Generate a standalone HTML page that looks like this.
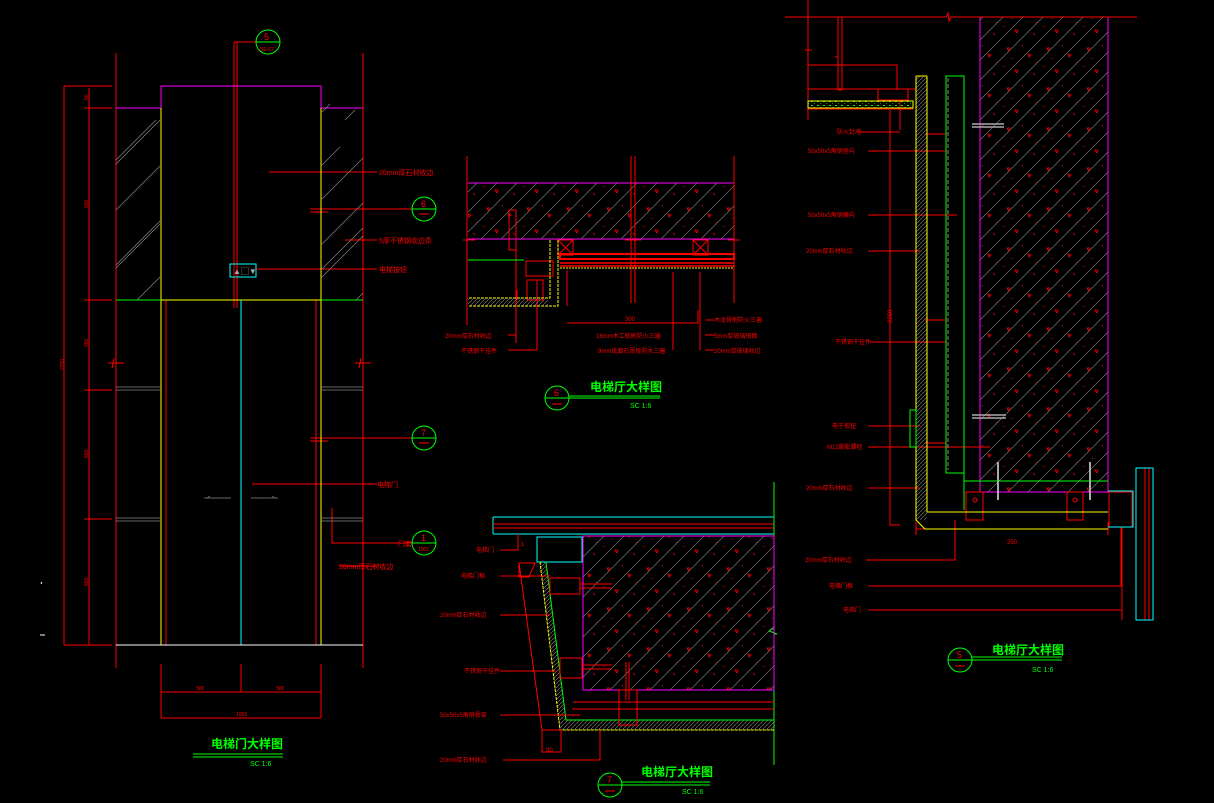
<!DOCTYPE html>
<html><head><meta charset="utf-8"><style>
html,body{margin:0;padding:0;background:#000;}
svg{display:block}
text{font-family:"Liberation Sans","Noto Sans CJK SC",sans-serif;}
.l{fill:#f00;font-size:7px}
.t{fill:#0f0;font-size:12px;font-weight:bold}
.s{fill:#0f0;font-size:7px}
</style></head><body>
<svg width="1214" height="803" viewBox="0 0 1214 803" xmlns="http://www.w3.org/2000/svg" fill="none" stroke-width="1">
<defs>
<pattern id="conc" width="40" height="40" patternUnits="userSpaceOnUse">
<path d="M0 40L40 0M-10 10L10 -10M30 50L50 30M0 20L20 0M20 40L40 20" stroke="#888" stroke-width="0.6"/>
<path d="M7 8l3 0-1.5 3z M28 14l3 1-2 2z M15 30l3 0-1 3z M33 33l2 2" stroke="#f00" stroke-width="0.8"/>
<rect x="22" y="5" width="1" height="1" fill="#f00"/><rect x="4" y="26" width="1" height="1" fill="#f00"/><rect x="36" y="22" width="1" height="1" fill="#f00"/><rect x="12" y="18" width="1" height="1" fill="#f00"/>
</pattern>
<pattern id="hat" width="4" height="4" patternUnits="userSpaceOnUse"><path d="M0 4L4 0" stroke="#888" stroke-width="0.6"/></pattern>
<pattern id="grn" width="6" height="4" patternUnits="userSpaceOnUse"><rect x="1" y="1" width="2" height="1" fill="#0f0"/><rect x="4" y="3" width="1" height="1" fill="#0a0"/></pattern>
</defs>

<!-- ============ LEFT ELEVATION ============ -->
<g stroke="#f00">
<path d="M64 86V645M64 86H112M89 88V645M84 108H112M84 300H112M84 390H112M84 519H112M64 645H112"/>
<path d="M116 53V668M363 53V668"/>
<path d="M108 363H124M114 358l-2 10M355 363H371M361 358l-2 10"/>
<path d="M234 42V308M237 42V308M234 42H258"/>
<path d="M166 300V645M316 300V645"/>
<path d="M269 172H377M310 209H412M310 212H328M345 240H377M257 269H377M310 438H412M310 441H328M252 484H377M332 508V543H412M339 566H377"/>
<path d="M161 664V718M241 664V692M321 664V718M161 692H321M161 718H321"/>
</g>
<path d="M161 108V86H321V108M116 108H161M321 108H363" stroke="#f0f"/>
<path d="M161 108V645M321 108V645M161 300H321" stroke="#ff0"/>
<path d="M116 300H161M321 300H363" stroke="#0f0"/>
<path d="M241 300V645" stroke="#0ff"/>
<path d="M116 645H363" stroke="#fff"/>
<g stroke="#888" stroke-width="0.7">
<path d="M116 160L156 120M116 164L160 120M116 210L161 165M116 265L161 220M116 268L161 223M137 300L161 276M321 113L330 104M321 166L340 147M321 200L363 158M345 120L355 110M321 245L363 203M321 270L363 228M321 278L363 236M356 300L363 293"/>
<path d="M116 387H161M116 390H161M321 387H363M321 390H363M116 518H161M116 521H161M321 518H363M321 521H363"/>
<path d="M204 498H231M251 498H278M207 498l3-2M275 498l-3-2"/>
</g>
<rect x="230" y="264" width="26" height="13" stroke="#0ff"/>
<text x="233" y="274" style="fill:#aaa;font-size:8px">▲▢▼</text>
<g stroke="#0f0"><circle cx="268" cy="42" r="12"/><path d="M256 42H280"/><circle cx="424" cy="209" r="12"/><path d="M412 209H436"/><circle cx="424" cy="438" r="12"/><path d="M412 438H436"/><circle cx="424" cy="543" r="12"/><path d="M412 543H436"/></g>
<text x="264" y="40" style="fill:#f00;font-size:9px">5</text><text x="260" y="51" style="fill:#f00;font-size:5px">SE-07</text>
<text x="421" y="207" style="fill:#f00;font-size:9px">6</text><path d="M419 214H429" stroke="#f00"/>
<text x="421" y="436" style="fill:#f00;font-size:9px">7</text><path d="M419 443H429" stroke="#f00"/>
<text x="421" y="541" style="fill:#f00;font-size:9px">1</text><text x="418" y="551" style="fill:#f00;font-size:5px">1001</text>
<text class="l" x="379" y="175">20mm厚石材收边</text>
<text class="l" x="379" y="243">5厚不锈钢收边条</text>
<text class="l" x="379" y="272">电梯按钮</text>
<text class="l" x="377" y="487">电梯门</text>
<text class="l" x="398" y="546">门套</text>
<text class="l" x="339" y="569">20mm厚石材收边</text>
<g class="l" style="font-size:5px">
<text x="84" y="100" transform="rotate(-90 86 98)">50</text><text x="84" y="208" transform="rotate(-90 86 206)">900</text><text x="84" y="347" transform="rotate(-90 86 345)">350</text><text x="84" y="458" transform="rotate(-90 86 456)">650</text><text x="84" y="586" transform="rotate(-90 86 584)">650</text><text x="60" y="370" transform="rotate(-90 62 368)">2250</text>
<text x="196" y="690">500</text><text x="276" y="690">500</text><text x="236" y="716">1000</text>
</g>
<text class="t" x="211" y="748">电梯门大样图</text>
<path d="M193 754H283M193 757H283" stroke="#0f0"/>
<text class="s" x="250" y="766">SC 1:6</text>
<path d="M41 584l1-2M40 635H45" stroke="#fff"/>

<!-- ============ MIDDLE TOP (6) ============ -->
<rect x="468" y="183" width="266" height="56" fill="url(#conc)"/>
<path d="M468 183H734M468 239H734" stroke="#f0f"/>
<g stroke="#f00">
<path d="M467 156V325M631 156V303M635 156V303M734 156V303M463 240H475M625 240H641M728 240H740"/>
<rect x="509" y="210" width="7" height="40"/>
<rect x="558" y="240" width="15" height="15"/><path d="M558 240l15 15M573 240l-15 15"/>
<rect x="693" y="240" width="15" height="15"/><path d="M693 240l15 15M708 240l-15 15"/>
<rect x="560" y="254" width="174" height="5" stroke-width="2"/>
<path d="M560 263H734M560 266H734" stroke-width="1.5"/>
<rect x="526" y="261" width="27" height="15"/><rect x="527" y="280" width="16" height="20"/>
<path d="M516 240V343M517 290V300M537 280V350M567 270V306M673 272V350M700 272V350M567 323H698M698 310V323"/>
<path d="M508 335H516M508 350H537M705 320H714M705 335H714M705 350H714"/>
</g>
<path d="M468 260H524" stroke="#0f0"/>
<path d="M550 240V298H468M558 240V306L548 306H468" stroke="#ff0" stroke-dasharray="3 1"/>
<rect x="468" y="298" width="80" height="8" fill="url(#hat)"/>
<path d="M560 268H734" stroke="#ff0" stroke-dasharray="2 1"/>
<g class="l" style="font-size:6px"><text x="445" y="338">20mm厚石材收边</text><text x="461" y="353">不锈钢干挂件</text><text x="596" y="338">18mm木工板刷防火三遍</text><text x="598" y="353">9mm纸面石膏板防水三遍</text><text x="714" y="322">木龙骨刷防火三遍</text><text x="714" y="338">5mm厚玻璃镜面</text><text x="714" y="353">20mm厚玻璃收边</text><text x="625" y="321">300</text></g>
<g stroke="#0f0"><circle cx="557" cy="398" r="12"/><path d="M545 398H660M569 396H660"/></g>
<text x="554" y="396" style="fill:#f00;font-size:9px">6</text><path d="M552 404H562" stroke="#f00"/>
<text class="t" x="590" y="391">电梯厅大样图</text>
<text class="s" x="630" y="408">SC 1:6</text>

<!-- ============ MIDDLE BOTTOM (7) ============ -->
<path d="M493 517H774M493 534H774M493 517V534" stroke="#0ff"/>
<path d="M493 524H774M493 528H774M518 534V550H503" stroke="#f00"/>
<path d="M774 482V765" stroke="#0f0"/>
<path d="M774 628l-5 3 8 3-3 0" stroke="#0f0"/>
<rect x="583" y="536" width="191" height="154" fill="url(#conc)" stroke="#f0f"/>
<rect x="537" y="537" width="45" height="25" stroke="#0ff"/>
<path d="M540 562L560 730H774V720H566L546 562Z" fill="url(#hat)"/>
<path d="M540 562L560 730H774" stroke="#ff0" stroke-dasharray="3 1"/>
<path d="M546 562L566 720H774" stroke="#0f0"/>
<g stroke="#f00">
<path d="M519 563L535 563L529 577H519ZM519 563L542 730M542 730H561V752H542Z"/>
<rect x="550" y="578" width="30" height="16"/><path d="M580 584H612M580 588H612"/>
<rect x="560" y="658" width="22" height="20"/><path d="M582 665H612M582 669H612"/>
<rect x="619" y="690" width="18" height="35"/><path d="M626 662V700M629 662V700"/>
<path d="M572 709H774M573 702H774"/>
<path d="M500 550H518M500 576H550M500 615H550M500 671H556M500 715H580M503 760H600V730"/>
</g>
<g class="l" style="font-size:6px"><text x="476" y="552">电梯门</text><text x="461" y="578">电梯门框</text><text x="440" y="617">20mm厚石材收边</text><text x="464" y="673">不锈钢干挂件</text><text x="440" y="717">50x50x5角钢骨架</text><text x="440" y="762">20mm厚石材收边</text><text x="546" y="752">90</text></g>
<text x="521" y="546" style="fill:#f00;font-size:6px">1</text>
<g stroke="#0f0"><circle cx="610" cy="785" r="12"/><path d="M598 785H710M622 782H710"/></g>
<text x="607" y="783" style="fill:#f00;font-size:9px">7</text><path d="M605 791H615" stroke="#f00"/>
<text class="t" x="641" y="776">电梯厅大样图</text>
<text class="s" x="682" y="794">SC 1:6</text>

<!-- ============ RIGHT (5) ============ -->
<rect x="980" y="17" width="128" height="475" fill="url(#conc)"/>
<path d="M980 17V492H1108V17" stroke="#f0f"/>
<g stroke="#f00">
<path d="M785 17H946l2-4 1 8 2-4H1137M808 0V120M805 50H812M838 17V90M842 17V90M835 57H838V90H842V57"/>
<path d="M808 65H897V90M808 89H916M878 89V100H908V89M808 109H913M900 100V130M890 110V525H900"/>
<path d="M860 132H900M868 151H946M868 215H957M868 251H920M870 342H946M868 426H920M868 447H990M868 488H920M866 560H955V520M868 586H1121V527M868 610H1121"/>
<path d="M916 529H1108M916 522V535M1108 522V535M1122 527V620"/>
<rect x="966" y="492" width="17" height="28"/><rect x="1067" y="492" width="16" height="28"/>
<circle cx="975" cy="500" r="2"/><circle cx="1075" cy="500" r="2"/>
<rect x="1109" y="492" width="23" height="35"/>
<path d="M925 134H946V148M925 320H946V336M925 443H946V460M1145 468V620M1149 468V620"/>
</g>
<rect x="808" y="101" width="105" height="7" fill="url(#grn)" stroke="#ff0"/>
<rect x="916" y="76" width="11" height="444" fill="url(#hat)"/>
<path d="M916 76V520L925 529H1108M927 76V512H1108M916 76H927" stroke="#ff0"/>
<rect x="946" y="76" width="18" height="397" stroke="#0f0"/>
<path d="M948 78V470" stroke="#888" stroke-dasharray="4 2"/>
<path d="M964 481H1108M964 473V510" stroke="#0f0"/>
<path d="M910 410H916V447H910Z" stroke="#0f0"/>
<path d="M1108 491H1133V527H1108M1136 468H1153V620H1136Z" stroke="#0ff"/>
<path d="M972 124H1004M972 127H1004M972 415H1006M972 418H1006" stroke="#aaa" stroke-width="1.5"/>
<path d="M998 462V500M1090 462V500" stroke="#aaa" stroke-width="2"/>
<g class="l" style="font-size:6px"><text x="837" y="134">防火封堵</text><text x="808" y="153">50x50x5角钢竖向</text><text x="808" y="217">50x50x5角钢横向</text><text x="806" y="253">20mm厚石材收边</text><text x="835" y="344">不锈钢干挂件</text><text x="832" y="428">电子按钮</text><text x="827" y="449">M12膨胀螺栓</text><text x="806" y="490">20mm厚石材收边</text><text x="805" y="562">20mm厚石材收边</text><text x="829" y="588">电梯门框</text><text x="843" y="612">电梯门</text><text x="1007" y="544">250</text><text x="885" y="324" transform="rotate(-90 888 320)">2250</text></g>
<g stroke="#0f0"><circle cx="960" cy="660" r="12"/><path d="M948 660H1062M972 657H1062"/></g>
<text x="957" y="658" style="fill:#f00;font-size:9px">5</text><path d="M955 666H965" stroke="#f00"/>
<text class="t" x="992" y="654">电梯厅大样图</text>
<text class="s" x="1032" y="672">SC 1:6</text>
</svg>
</body></html>
